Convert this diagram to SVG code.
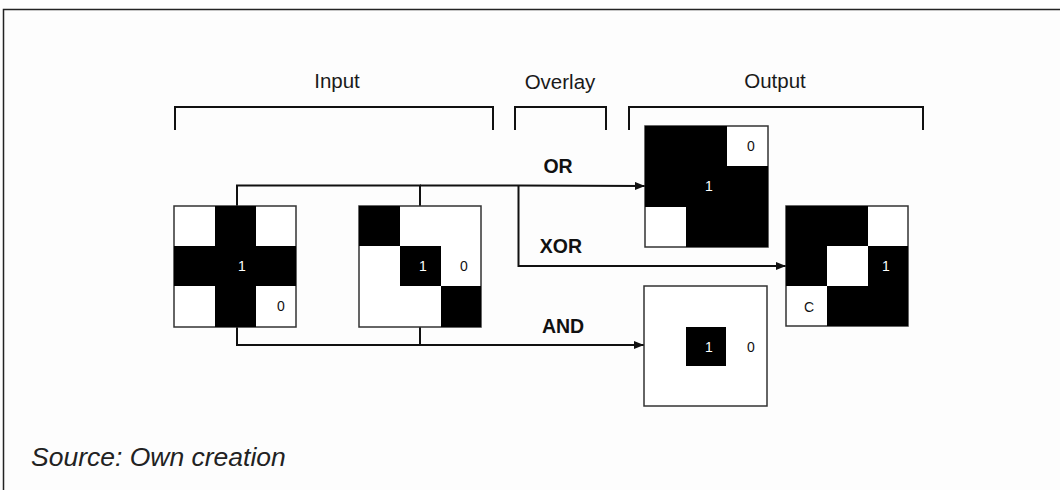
<svg xmlns="http://www.w3.org/2000/svg" width="1060" height="490" viewBox="0 0 1060 490">
  <style>
    .frame { fill: none; stroke: #222; stroke-width: 1.5; }
    .bracket { fill: none; stroke: #111; stroke-width: 2; }
    .head { font-family: "Liberation Sans", Arial, sans-serif; font-size: 20.5px; fill: #1a1a1a; text-anchor: middle; }
    .op { font-family: "Liberation Sans", Arial, sans-serif; font-size: 19.5px; font-weight: bold; fill: #111; text-anchor: middle; }
    .grid { fill: #fff; stroke: #333; stroke-width: 1.5; }
    .blk { fill: #000; }
    .dw { font-family: "Liberation Sans", Arial, sans-serif; font-size: 14px; fill: #fff; text-anchor: middle; }
    .db { font-family: "Liberation Sans", Arial, sans-serif; font-size: 14px; fill: #111; text-anchor: middle; }
    .wire { fill: none; stroke: #111; stroke-width: 2; }
    .src { font-family: "Liberation Sans", Arial, sans-serif; font-size: 26.5px; font-style: italic; fill: #222; }
  </style>
  <defs>
    <marker id="arrow" viewBox="0 0 10 8" refX="10" refY="4" markerWidth="10" markerHeight="8" markerUnits="userSpaceOnUse" orient="auto">
      <path d="M0,0 L10,4 L0,8 Z" fill="#111"/>
    </marker>
  </defs>

  <rect width="1060" height="490" fill="#fdfdfd"/>

  <!-- outer frame: top and left edges -->
  <path class="frame" d="M3.5,490 V9.5 H1060"/>

  <!-- section headings with brackets -->
  <g id="section-input">
    <text class="head" x="337" y="88">Input</text>
    <path class="bracket" d="M175,130 V107 H493 V130"/>
  </g>
  <g id="section-overlay">
    <text class="head" x="560" y="89">Overlay</text>
    <path class="bracket" d="M515,130 V107 H606 V130"/>
  </g>
  <g id="section-output">
    <text class="head" x="775" y="88">Output</text>
    <path class="bracket" d="M629,130 V107 H923 V130"/>
  </g>

  <!-- connectors -->
  <g id="connectors">
    <path class="wire" d="M237,206 V185.5 H420 V206"/>
    <path class="wire" d="M420,185.5 H518 L645,186" marker-end="url(#arrow)"/>
    <path class="wire" d="M518.5,186 V266 H786" marker-end="url(#arrow)"/>
    <path class="wire" d="M237,327 V345 H420 V327"/>
    <path class="wire" d="M420,345 H644" marker-end="url(#arrow)"/>
    <text class="op" x="558" y="173">OR</text>
    <text class="op" x="561" y="253">XOR</text>
    <text class="op" x="563" y="333">AND</text>
  </g>

  <!-- input A: cross pattern -->
  <g id="input-a" transform="translate(174,206)">
    <rect class="grid" x="0" y="0" width="122" height="121"/>
    <rect class="blk" x="41" y="0" width="41" height="121"/>
    <rect class="blk" x="0" y="40" width="122" height="40"/>
    <text class="dw" x="68" y="65">1</text>
    <text class="db" x="107" y="105">0</text>
  </g>

  <!-- input B: diagonal pattern -->
  <g id="input-b" transform="translate(359,206)">
    <rect class="grid" x="0" y="0" width="122" height="121"/>
    <rect class="blk" x="0" y="0" width="41" height="40"/>
    <rect class="blk" x="41" y="40" width="41" height="40"/>
    <rect class="blk" x="82" y="80" width="40" height="41"/>
    <text class="dw" x="64" y="65">1</text>
    <text class="db" x="105" y="65">0</text>
  </g>

  <!-- output: OR -->
  <g id="output-or" transform="translate(645,126)">
    <rect class="grid" x="0" y="0" width="123" height="121"/>
    <path class="blk" d="M0,0 H82 V40 H123 V121 H41 V81 H0 Z"/>
    <text class="dw" x="64" y="65">1</text>
    <text class="db" x="106" y="25">0</text>
  </g>

  <!-- output: XOR -->
  <g id="output-xor" transform="translate(786,206)">
    <rect class="grid" x="0" y="0" width="122" height="120"/>
    <rect class="blk" x="0" y="0" width="82" height="40"/>
    <rect class="blk" x="0" y="40" width="41" height="40"/>
    <rect class="blk" x="82" y="40" width="40" height="40"/>
    <rect class="blk" x="41" y="80" width="81" height="40"/>
    <text class="dw" x="100" y="65">1</text>
    <text class="db" x="23" y="106">C</text>
  </g>

  <!-- output: AND -->
  <g id="output-and" transform="translate(644,286)">
    <rect class="grid" x="0" y="0" width="123" height="120"/>
    <rect class="blk" x="42" y="41" width="40" height="39"/>
    <text class="dw" x="65" y="66">1</text>
    <text class="db" x="107" y="66">0</text>
  </g>

  <text class="src" x="31" y="466">Source: Own creation</text>
</svg>
